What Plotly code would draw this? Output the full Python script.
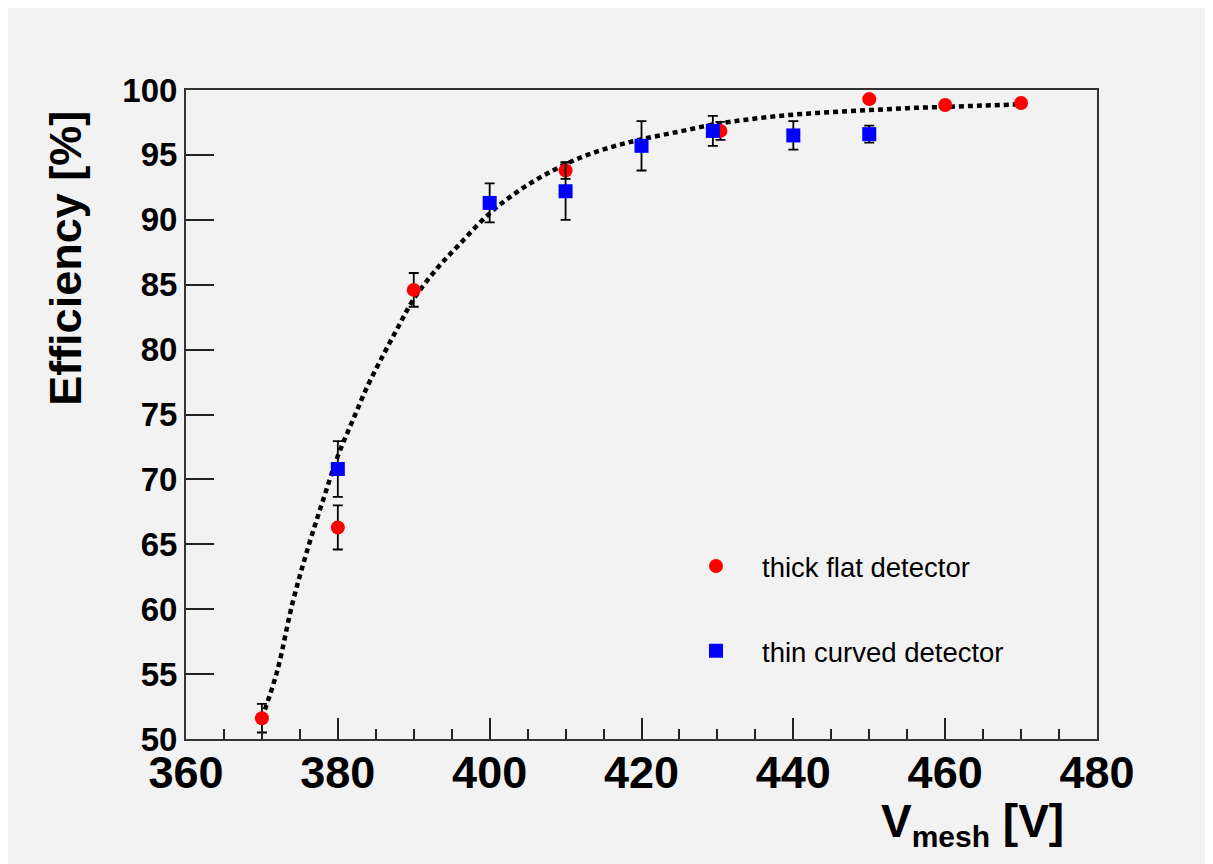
import plotly.graph_objects as go

# --- data ---
thick_v = [370, 380, 390, 410, 430.4, 450, 460, 470]
thick_eff = [51.6, 66.3, 84.6, 93.8, 96.85, 99.3, 98.85, 99.0]
thick_err = [1.1, 1.7, 1.3, 0.65, 0.7, 0.3, 0.3, 0.3]

thin_v = [380, 400, 410, 420, 429.4, 440, 450]
thin_eff = [70.8, 91.3, 92.2, 95.7, 96.85, 96.5, 96.6]
thin_err = [2.15, 1.5, 2.2, 1.9, 1.15, 1.1, 0.65]

fit_v = [370, 372, 374, 376, 378, 380, 382, 384, 386, 388, 390, 393, 396, 400,
         404, 408, 412, 416, 420, 425, 430, 435, 440, 445, 450, 455, 460, 465, 470]
fit_eff = [51.6, 55.2, 60.4, 64.6, 68.3, 71.8, 74.6, 77.3, 79.6, 81.8, 83.9, 86.2,
           88.1, 90.5, 92.3, 93.7, 94.8, 95.6, 96.2, 96.8, 97.4, 97.8, 98.1, 98.3,
           98.45, 98.6, 98.7, 98.8, 98.9]

x_ticks = [360, 380, 400, 420, 440, 460, 480]
y_ticks = [50, 55, 60, 65, 70, 75, 80, 85, 90, 95, 100]

FONT = "Liberation Sans, Arial, sans-serif"
OFF = 8  # page body margin
W, H = 1213, 864
# plot area in page pixels, converted to figure pixels
L, R, T, B = 186 - OFF, 1097 - OFF, 90 - OFF, 739.5 - OFF


def px_x(p):
    return (p - OFF - L) / (R - L)


def px_y(p):
    return (B - (p - OFF)) / (B - T)


fig = go.Figure()

fig.add_trace(go.Scatter(
    x=fit_v, y=fit_eff, mode="lines", line_shape="spline",
    line=dict(color="black", width=4.5, dash="5px,4px"),
    showlegend=False, hoverinfo="skip"))

fig.add_trace(go.Scatter(
    x=thick_v, y=thick_eff, mode="markers", name="thick flat detector",
    legendgroup="a",
    marker=dict(symbol="circle", size=14, color="#ff0000", line=dict(width=0)),
    error_y=dict(type="data", array=thick_err, color="black", thickness=1.8, width=5)))

fig.add_trace(go.Scatter(
    x=thin_v, y=thin_eff, mode="markers", name="thin curved detector",
    legendgroup="b",
    marker=dict(symbol="square", size=14, color="#0000ff", line=dict(width=0)),
    error_y=dict(type="data", array=thin_err, color="black", thickness=1.8, width=5)))

fig.update_layout(
    width=W, height=H,
    margin=dict(l=L, r=W - R, t=T, b=H - B, autoexpand=False),
    paper_bgcolor="#f2f2f2", plot_bgcolor="#f2f2f2",
    font=dict(family=FONT, color="black"),
    showlegend=True,
    legend=dict(x=px_x(670), y=px_y(542), xanchor="left", yanchor="top",
                bgcolor="rgba(0,0,0,0)", borderwidth=0,
                font=dict(size=27.5, family=FONT, color="black"),
                tracegroupgap=46, itemwidth=82),
)

fig.update_xaxes(
    range=[360, 480], tickvals=x_ticks, ticktext=[str(v) for v in x_ticks],
    ticks="inside", ticklen=21, tickwidth=2, tickcolor="#222",
    minor=dict(dtick=5, ticks="inside", ticklen=10, tickwidth=2, tickcolor="#222"),
    showline=True, linecolor="#333", linewidth=2, mirror=True,
    showgrid=False, zeroline=False,
    tickfont=dict(size=45, family=FONT, weight="bold"),
    ticklabelstandoff=-7)

fig.update_yaxes(
    range=[50, 100], tickvals=y_ticks, ticktext=[str(v) for v in y_ticks],
    ticks="inside", ticklen=28, tickwidth=2, tickcolor="#222",
    showline=True, linecolor="#333", linewidth=2, mirror=True,
    showgrid=False, zeroline=False,
    tickfont=dict(size=33, family=FONT, weight="bold"),
    ticklabelstandoff=0)

fig.add_annotation(
    xref="paper", yref="paper", x=px_x(66), y=px_y(259),
    text="<b>Efficiency [%]</b>", textangle=-90, showarrow=False,
    font=dict(size=45, family=FONT, color="black"),
    xanchor="center", yanchor="middle")

fig.add_annotation(
    xref="paper", yref="paper", x=px_x(1066), y=px_y(794),
    text="<b>V<sub><span style='font-size:30px'>mesh</span></sub> [V]</b>",
    showarrow=False,
    font=dict(size=46, family=FONT, color="black"),
    xanchor="right", yanchor="top")

fig.write_html("out.html")
